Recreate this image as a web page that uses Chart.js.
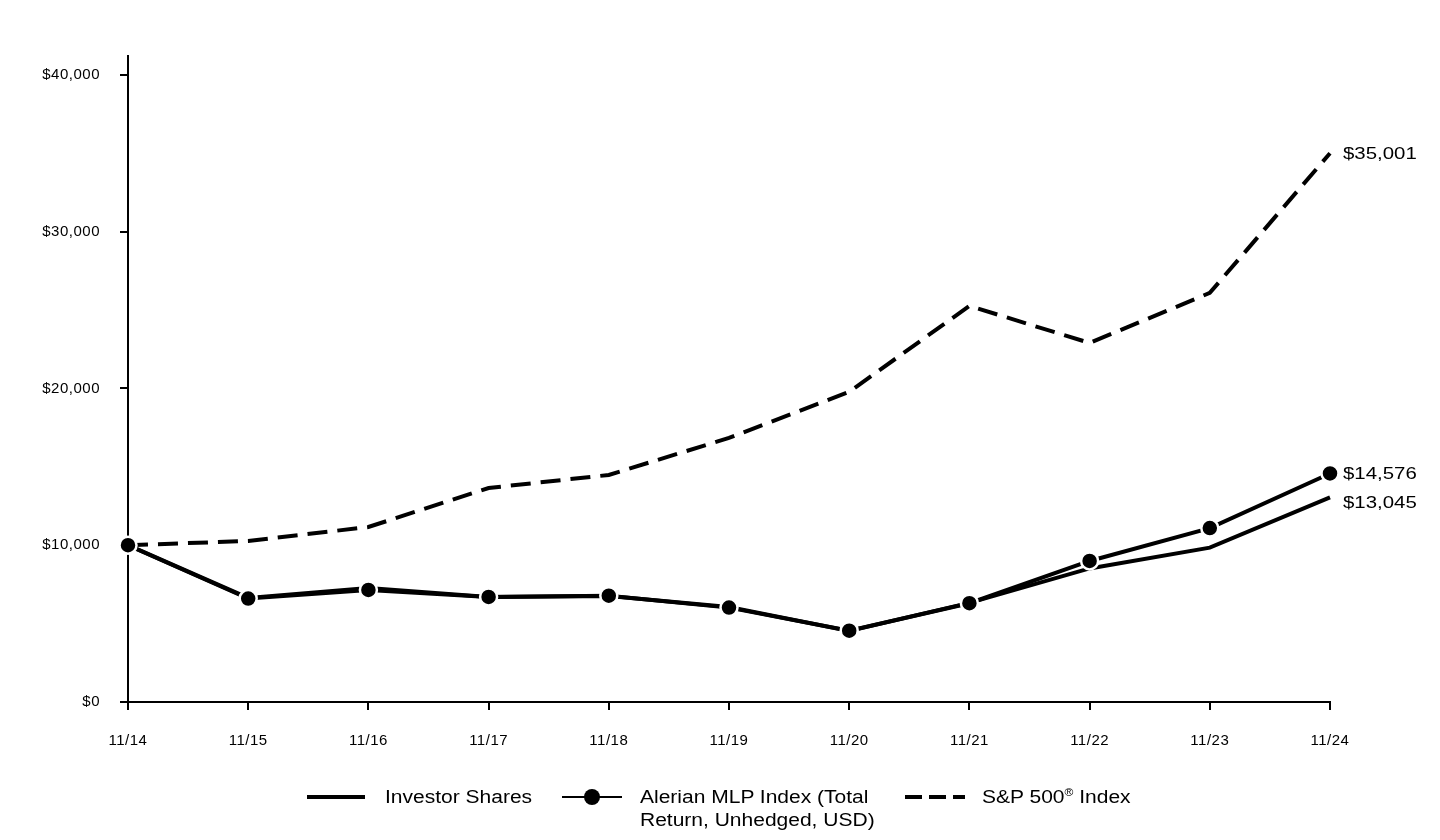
<!DOCTYPE html>
<html>
<head>
<meta charset="utf-8">
<script src="https://cdn.jsdelivr.net/npm/chart.js@4.4.1/dist/chart.umd.min.js"></script>
<style>
  html, body { margin: 0; padding: 0; background: #fff; }
  body { width: 1440px; height: 840px; position: relative; overflow: hidden;
         font-family: Arial, "Liberation Sans", sans-serif; }
  #wrap { position: absolute; left: 0; top: 0; width: 1440px; height: 840px; }
  .legend { position: absolute; top: 786px; left: 0; width: 1440px; height: 54px; font-size: 17.5px; color: #000; }
  .item { position: absolute; top: 0; line-height: 23px; white-space: nowrap;
          transform: scaleX(1.2); transform-origin: left top; }
  sup { font-size: 10px; vertical-align: 7px; line-height: 0; }
</style>
</head>
<body>
<div id="wrap"><canvas id="perfChart" width="1440" height="840"></canvas></div>
<div class="legend">
  <svg style="position:absolute;left:307px;top:0" width="60" height="24"><line x1="0" y1="11" x2="58" y2="11" stroke="#000" stroke-width="4"/></svg>
  <div class="item" style="left:385px">Investor Shares</div>
  <svg style="position:absolute;left:562px;top:0" width="62" height="24"><line x1="0" y1="11" x2="60" y2="11" stroke="#000" stroke-width="2"/><circle cx="30" cy="11" r="8" fill="#000"/></svg>
  <div class="item" style="left:640px">Alerian MLP Index (Total<br>Return, Unhedged, USD)</div>
  <svg style="position:absolute;left:905px;top:0" width="62" height="24"><line x1="0" y1="11" x2="60" y2="11" stroke="#000" stroke-width="4" stroke-dasharray="17 7"/></svg>
  <div class="item" style="left:982px">S&amp;P 500<sup>®</sup> Index</div>
</div>
<script>
const labels = ['11/14', '11/15', '11/16', '11/17', '11/18', '11/19', '11/20', '11/21', '11/22', '11/23', '11/24'];
const investorShares = [10000, 6640, 7270, 6700, 6760, 6060, 4530, 6320, 8520, 9845, 13045];
const alerianMLP = [10000, 6600, 7150, 6700, 6780, 6020, 4550, 6300, 8995, 11090, 14576];
const sp500 = [10000, 10270, 11160, 13650, 14480, 16840, 19780, 25260, 22900, 26090, 35001];
const yTicks = [0, 10000, 20000, 30000, 40000];

const FONT = 'Arial, "Liberation Sans", sans-serif';

function money(v) {
    return '$' + v.toLocaleString('en-US');
}

// slightly wider letters, like the reference
const spacing = {
    id: 'spacing',
    beforeDraw(chart) {
        chart.ctx.letterSpacing = '0.5px';
    }
};

// value labels at the right end of each line
const endLabels = {
    id: 'endLabels',
    afterDatasetsDraw(chart) {
        const ctx = chart.ctx;
        ctx.save();
        ctx.letterSpacing = '0px';
        ctx.font = '17px ' + FONT;
        ctx.fillStyle = '#000';
        ctx.textBaseline = 'middle';
        chart.data.datasets.forEach((ds, i) => {
            const meta = chart.getDatasetMeta(i);
            const pt = meta.data[meta.data.length - 1];
            const v = ds.data[ds.data.length - 1];
            const dy = ds.label === 'Investor Shares' ? 6 : 1;
            ctx.save();
            ctx.translate(pt.x + 13, pt.y + dy);
            ctx.scale(1.2, 1);
            ctx.fillText(money(v), 0, 0);
            ctx.restore();
        });
        ctx.restore();
    }
};

const ctx = document.getElementById('perfChart');
new Chart(ctx, {
    type: 'line',
    data: {
        labels: labels,
        datasets: [
            {
                label: 'Alerian MLP Index (Total Return, Unhedged, USD)',
                data: alerianMLP,
                borderColor: '#000',
                backgroundColor: '#000',
                borderWidth: 4,
                pointRadius: 8.5,
                pointBorderColor: '#fff',
                pointBorderWidth: 2.5,
                pointBackgroundColor: '#000',
                order: 0
            },
            {
                label: 'Investor Shares',
                data: investorShares,
                borderColor: '#000',
                borderWidth: 4,
                pointRadius: 0,
                order: 1
            },
            {
                label: 'S&P 500® Index',
                data: sp500,
                borderColor: '#000',
                borderWidth: 4,
                borderDash: [20, 10],
                pointRadius: 0,
                order: 2
            }
        ]
    },
    options: {
        responsive: false,
        animation: false,
        layout: { padding: { top: 56, right: 110, left: 0, bottom: 0 } },
        plugins: {
            legend: { display: false },
            tooltip: { enabled: false }
        },
        scales: {
            x: {
                offset: false,
                grid: { drawOnChartArea: false, drawTicks: true, tickLength: 8, color: '#000', lineWidth: 2 },
                border: { display: true, color: '#000', width: 2 },
                ticks: { color: '#000', font: { family: FONT, size: 15 }, padding: 22, maxRotation: 0, autoSkip: false },
                afterFit(scale) { scale.height = 138; }
            },
            y: {
                min: 0,
                max: 41200,
                afterBuildTicks(scale) {
                    scale.ticks = yTicks.map(v => ({ value: v }));
                },
                grid: { drawOnChartArea: false, drawTicks: true, tickLength: 8, color: '#000', lineWidth: 2 },
                border: { display: true, color: '#000', width: 2 },
                ticks: {
                    color: '#000',
                    font: { family: FONT, size: 15 },
                    padding: 20,
                    callback: v => money(v)
                },
                afterFit(scale) { scale.width = 128; }
            }
        }
    },
    plugins: [spacing, endLabels]
});
</script>
</body>
</html>
